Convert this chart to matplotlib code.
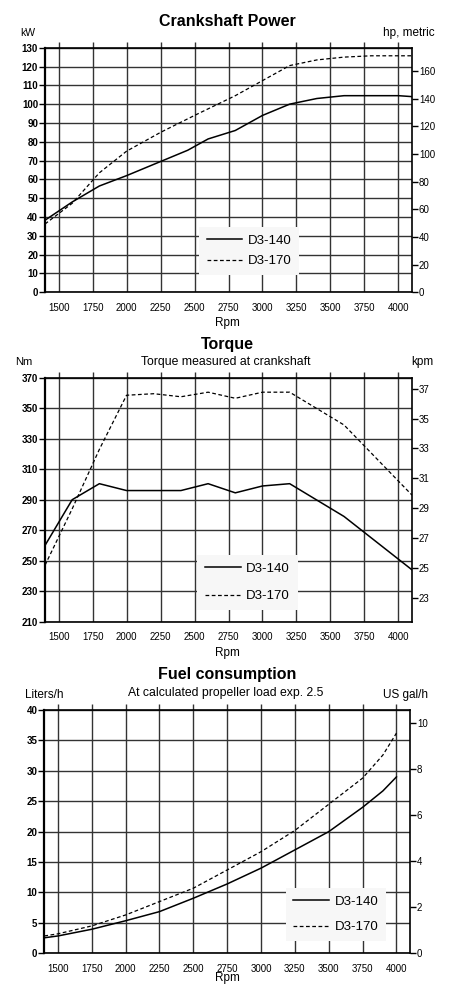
import numpy as np
import matplotlib
matplotlib.use("Agg")
import matplotlib.pyplot as plt

plt.rcParams['font.family'] = ['Liberation Sans', 'DejaVu Sans']

# ---- data ----
# Crankshaft power (kW)
rpm_pw_140 = [1400, 1600, 1800, 2000, 2250, 2450, 2600, 2800, 3000, 3200, 3400, 3600, 4000, 4100]
kw_140 = [38.3, 48, 56.5, 62, 69.5, 75.5, 81.5, 86, 94, 100, 103, 104.5, 104.5, 104]
rpm_pw_170 = [1400, 1600, 1800, 2000, 2250, 2500, 2600, 2800, 3000, 3200, 3400, 3600, 3800, 4100]
kw_170 = [36.3, 47.3, 63.5, 75, 85, 94, 97.5, 104.5, 112.5, 120.5, 123.5, 125, 125.7, 125.7]

# Torque (Nm)
rpm_tq_140 = [1400, 1600, 1800, 2000, 2400, 2600, 2800, 3000, 3200, 3600, 4100]
nm_140 = [260, 290, 300.5, 296, 296, 300.5, 294.5, 299, 300.5, 279, 244]
rpm_tq_170 = [1400, 1600, 1800, 2000, 2200, 2400, 2600, 2800, 3000, 3200, 3600, 4100]
nm_170 = [247, 284, 323, 358.5, 359.5, 357.5, 360.5, 356.5, 360.5, 360.5, 339, 293]

# Fuel consumption (Liters/h)
rpm_fuel = [1400, 1500, 1750, 2000, 2250, 2500, 2750, 3000, 3250, 3500, 3750, 3900, 4000]
lh_140 = [2.55, 2.85, 3.95, 5.35, 6.85, 9.05, 11.4, 14.0, 17.0, 20.0, 24.0, 26.7, 29.0]
lh_170 = [2.85, 3.2, 4.5, 6.3, 8.5, 10.7, 13.7, 16.7, 20.2, 24.5, 28.8, 32.6, 36.2]

xticks = [1500, 1750, 2000, 2250, 2500, 2750, 3000, 3250, 3500, 3750, 4000]
labels = ['D3-140', 'D3-170']

W, H = 449, 986
fig = plt.figure(figsize=(W / 100, H / 100), dpi=100)


def fx(x):
    return x / W


def fy(y):
    return 1 - y / H


def make_axes(left, right, top, bottom):
    return fig.add_axes([fx(left), fy(bottom), fx(right) - fx(left), fy(top) - fy(bottom)])


GRID = '#333333'
TICK_FS = 7
TITLE_FS = 11.5
SUB_FS = 8.8
UNIT_FS = 8.5


def style(ax, ylim, yticks):
    ax.set_xlim(1400, 4100)
    ax.set_ylim(*ylim)
    ax.set_xticks(xticks)
    ax.set_yticks(yticks)
    ax.grid(True, color=GRID, linewidth=1.0)
    ax.set_axisbelow(True)
    ax.tick_params(axis='x', bottom=False, top=True, direction='out', length=4.5,
                   width=1.0, color=GRID, labelsize=TICK_FS, pad=3)
    ax.tick_params(axis='y', left=True, direction='out', length=4, width=1.0,
                   labelsize=TICK_FS, pad=1)
    for lab in ax.get_yticklabels():
        lab.set_fontweight('bold')
    for s in ax.spines.values():
        s.set_linewidth(1.2)
    ax.spines['left'].set_linewidth(1.6)


def right_axis(ax, conv, rticks):
    r = ax.twinx()
    lo, hi = ax.get_ylim()
    r.set_ylim(lo / conv, hi / conv)
    r.set_yticks(rticks)
    r.tick_params(axis='y', direction='out', length=4, width=1.0, labelsize=TICK_FS, pad=1)
    for s in r.spines.values():
        s.set_visible(False)
    return r


def plot_pair(ax, x1, y1, x2, y2):
    ax.plot(x1, y1, color='black', linewidth=1.1, label=labels[0], zorder=5)
    ax.plot(x2, y2, color='black', linewidth=0.9, linestyle=(0, (3, 2)), label=labels[1], zorder=5)


def legend(ax, cx, cy, spacing):
    lg = ax.legend(loc='center', bbox_to_anchor=(fx(cx), fy(cy)), bbox_transform=fig.transFigure,
                   fontsize=9.5, frameon=True, fancybox=False, framealpha=1,
                   facecolor='#f7f7f7', edgecolor='none', handlelength=2.7,
                   handletextpad=0.4, labelspacing=spacing, borderpad=0.6)
    lg.set_zorder(10)


# ---- Crankshaft power ----
ax1 = make_axes(45, 412, 47.7, 292.3)
plot_pair(ax1, rpm_pw_140, kw_140, rpm_pw_170, kw_170)
style(ax1, (0, 130), np.arange(0, 131, 10))
right_axis(ax1, 0.7355, np.arange(0, 161, 20))
legend(ax1, 249, 251, 0.6)
fig.text(fx(227), fy(21), 'Crankshaft Power', ha='center', va='center', fontsize=TITLE_FS, fontweight='bold')
fig.text(fx(20), fy(33), 'kW', ha='left', va='center', fontsize=UNIT_FS - 1)
fig.text(fx(435), fy(33), 'hp, metric', ha='right', va='center', fontsize=UNIT_FS)
fig.text(fx(227), fy(323), 'Rpm', ha='center', va='center', fontsize=UNIT_FS)

# ---- Torque ----
ax2 = make_axes(45, 412, 377.7, 621.7)
plot_pair(ax2, rpm_tq_140, nm_140, rpm_tq_170, nm_170)
style(ax2, (210, 370), np.arange(210, 371, 20))
right_axis(ax2, 9.80665, np.arange(23, 38, 2))
legend(ax2, 247.5, 582.5, 1.15)
fig.text(fx(227), fy(345), 'Torque', ha='center', va='center', fontsize=TITLE_FS, fontweight='bold')
fig.text(fx(226), fy(362), 'Torque measured at crankshaft', ha='center', va='center', fontsize=SUB_FS)
fig.text(fx(15), fy(362), 'Nm', ha='left', va='center', fontsize=UNIT_FS - 0.5)
fig.text(fx(433), fy(362), 'kpm', ha='right', va='center', fontsize=UNIT_FS)
fig.text(fx(227), fy(653), 'Rpm', ha='center', va='center', fontsize=UNIT_FS)

# ---- Fuel consumption ----
ax3 = make_axes(44.3, 410, 710, 953.3)
plot_pair(ax3, rpm_fuel, lh_140, rpm_fuel, lh_170)
style(ax3, (0, 40), np.arange(0, 41, 5))
right_axis(ax3, 3.78541, np.arange(0, 11, 2))
legend(ax3, 335.8, 914.5, 1.0)
fig.text(fx(227), fy(675), 'Fuel consumption', ha='center', va='center', fontsize=TITLE_FS, fontweight='bold')
fig.text(fx(226), fy(693), 'At calculated propeller load exp. 2.5', ha='center', va='center', fontsize=SUB_FS)
fig.text(fx(25), fy(695), 'Liters/h', ha='left', va='center', fontsize=UNIT_FS)
fig.text(fx(428), fy(695), 'US gal/h', ha='right', va='center', fontsize=UNIT_FS)
fig.text(fx(227), fy(978), 'Rpm', ha='center', va='center', fontsize=UNIT_FS)

fig.savefig('out.png', dpi=100)
